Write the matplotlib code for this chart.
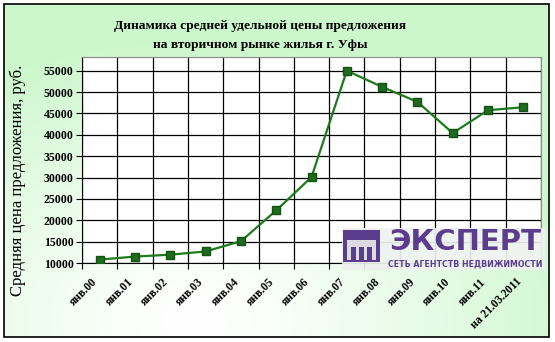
import numpy as np
import matplotlib
matplotlib.use("Agg")
import matplotlib.pyplot as plt
from matplotlib.patches import Rectangle
import matplotlib.transforms as mtransforms

categories = ["янв.00", "янв.01", "янв.02", "янв.03", "янв.04", "янв.05", "янв.06",
              "янв.07", "янв.08", "янв.09", "янв.10", "янв.11", "на 21.03.2011"]
prices = [10800, 11500, 11950, 12700, 15100, 22300, 30100,
          55000, 51200, 47700, 40400, 45750, 46450]
yticks = [10000, 15000, 20000, 25000, 30000, 35000, 40000, 45000, 50000, 55000]

W, H = 555, 342
fig = plt.figure(figsize=(W / 100, H / 100), dpi=100)
fig.patch.set_facecolor("white")

# background gradient inside border
bg = fig.add_axes([4 / W, (H - 337) / H, 545 / W, 333 / H])
bg.set_axis_off()
ny, nx = 120, 200
yy, xx = np.mgrid[0:1:ny * 1j, 0:1:nx * 1j]
d = np.sqrt(((xx - 0.35) / 0.75) ** 2 + ((yy - 0.05) / 0.85) ** 2)
t = np.clip(d, 0, 1) ** 1.3
white = np.array([1.0, 1.0, 1.0])
green = np.array([0.80, 0.97, 0.80])
img = white[None, None, :] * (1 - t[..., None]) + green[None, None, :] * t[..., None]
bg.imshow(img, origin="lower", aspect="auto", extent=[0, 1, 0, 1])
bg.add_patch(Rectangle((0, 0), 1, 1, transform=bg.transAxes, fill=False,
                       edgecolor="black", linewidth=1.2, clip_on=False))
bg.set_xlim(0, 1)
bg.set_ylim(0, 1)

ax = fig.add_axes([82 / W, (H - 263) / H, (541 - 82) / W, (263 - 57) / H])
ax.set_facecolor("white")
x = np.arange(len(categories))
ax.plot(x, prices, color="#1d7a1d", linewidth=1.6, marker="s", markersize=6,
        markerfacecolor="#1f6b1f", markeredgecolor="#145214", zorder=3)
ax.set_xlim(-0.5, len(categories) - 0.5)
ax.set_ylim(10000, 58200)
ax.set_yticks(yticks)
ax.set_yticklabels([str(v) for v in yticks], fontfamily="Liberation Serif",
                   fontweight="bold", fontsize=8.5)
ax.set_xticks(np.arange(len(categories) + 1) - 0.5)
ax.set_xticklabels([])
ax.tick_params(axis="x", which="major", length=4, direction="out", color="black")
ax.tick_params(axis="y", length=4, direction="out", color="black", pad=2)
ax.grid(True, which="major", color="black", linewidth=0.9)
ax.set_axisbelow(True)
for s in ["top", "right"]:
    ax.spines[s].set_color("#8a8a8a")
for s in ["left", "bottom"]:
    ax.spines[s].set_color("black")

# category labels (rotated, Excel-like placement)
blend = mtransforms.blended_transform_factory(ax.transData, ax.transAxes)
offset = mtransforms.ScaledTranslation(-8 / 100, -13 / 100, fig.dpi_scale_trans)
for xi, cat in zip(x, categories):
    ax.text(xi, 0, cat, transform=blend + offset, rotation=45, ha="right", va="top",
            rotation_mode="anchor", fontfamily="Liberation Serif",
            fontweight="bold", fontsize=8.3, clip_on=False)

# logo
purple = "#5b3d8e"
ax_logo = fig.add_axes([342 / W, (H - 270) / H, 203 / W, 42 / H])
ax_logo.set_axis_off()
ax_logo.set_xlim(0, 203)
ax_logo.set_ylim(0, 42)
ax_logo.add_patch(Rectangle((0, 0), 203, 42, facecolor="#eef2ee", edgecolor="none", alpha=0.92))
ax_logo.add_patch(Rectangle((1, 8), 37, 32, facecolor=purple, edgecolor="none"))
ax_logo.add_patch(Rectangle((5, 10), 29, 20, facecolor="#dcdce0", edgecolor="none"))
for bx in (9, 17, 25):
    ax_logo.add_patch(Rectangle((bx, 10), 5, 13, facecolor=purple, edgecolor="none"))
ax_logo.text(123, 28, "ЭКСПЕРТ", ha="center", va="center", fontsize=21,
             fontweight="bold", color=purple, fontfamily="DejaVu Sans")
ax_logo.text(123, 6, "СЕТЬ АГЕНТСТВ НЕДВИЖИМОСТИ", ha="center", va="center",
             fontsize=5.7, color=purple, fontfamily="DejaVu Sans", fontweight="bold")

fig.text(260 / W, (H - 26) / H, "Динамика средней удельной цены предложения",
         ha="center", va="center", fontfamily="Liberation Serif", fontweight="bold",
         fontsize=9.7)
fig.text(260 / W, (H - 45) / H, "на вторичном рынке жилья г. Уфы",
         ha="center", va="center", fontfamily="Liberation Serif", fontweight="bold",
         fontsize=9.7)
fig.text(18 / W, (H - 180) / H, "Средняя цена предложения, руб.", rotation=90,
         ha="center", va="center", fontfamily="Liberation Serif", fontsize=12)

fig.savefig("out.png", dpi=100)
